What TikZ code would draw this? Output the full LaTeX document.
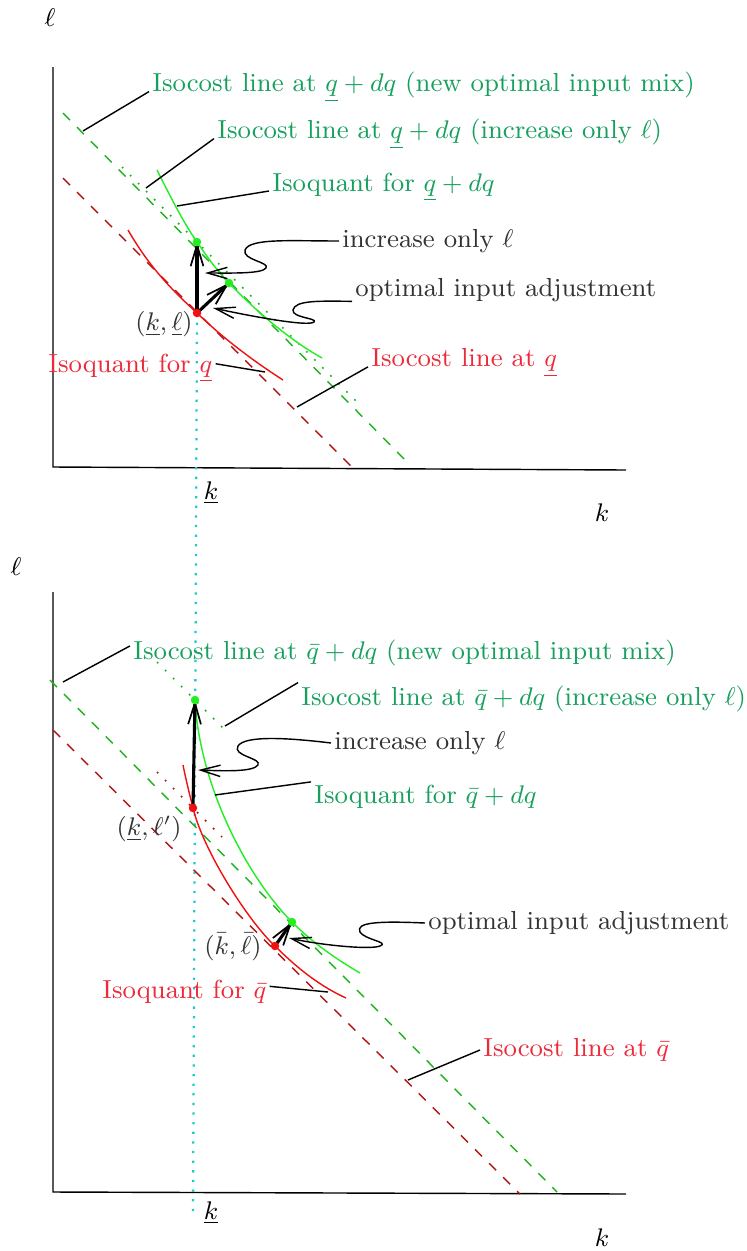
\documentclass[tikz,border=0pt]{standalone}
\usepackage{xcolor}
\usepackage{tikz}
\usepackage{amsmath}
\usetikzlibrary{arrows.meta}
\definecolor{gtext}{HTML}{17A05D}
\definecolor{rtext}{HTML}{EC2A3A}
\definecolor{dtext}{HTML}{333333}
\definecolor{gline}{HTML}{1DB31D}
\definecolor{rline}{HTML}{B01515}
\definecolor{gcurve}{HTML}{22EE22}
\definecolor{rcurve}{HTML}{F01010}
\definecolor{guidec}{HTML}{20C8D0}

\begin{document}
\begin{tikzpicture}[
  x=0.353pt,y=-0.353pt,
  font=\fontsize{9.2pt}{11pt}\selectfont,
  lab/.style={inner sep=1pt,anchor=west},
  glab/.style={lab,text=gtext},
  rlab/.style={lab,text=rtext},
  dlab/.style={lab,text=dtext},
  lead/.style={draw=black,line width=0.5pt},
  ar/.style={-{Straight Barb[length=7pt,width=4pt]}},
  move/.style={draw=black,line width=1.1pt,-{Straight Barb[length=7.5pt,width=4.5pt,line width=0.6pt]}},
  cost/.style={dash pattern=on 3.5pt off 3.5pt,line width=0.5pt},
  only/.style={dash pattern=on 0.6pt off 3.4pt,line width=0.6pt},
  isoq/.style={line width=0.5pt},
  axis/.style={draw=black,line width=0.5pt},
  guide/.style={draw=guidec,line width=0.8pt,dash pattern=on 0.8pt off 2.6pt}
]
\useasboundingbox (0,0) rectangle (747,1251);

\draw[axis] (53,67) -- (53,467) -- (626,470);
\node (l1) at (50,18) {$\ell$};
\node (k1) at (602,513) {$k$};
\node (kk1) at (211,493) {$\underline{k}$};
\draw[axis] (53,592) -- (53,1192) -- (626,1194);
\node (l2) at (16,567) {$\ell$};
\node (k2) at (602,1238) {$k$};
\node (kk2) at (211,1213) {$\underline{k}$};

% top panel
\coordinate (A) at (197,313);
\coordinate (B) at (197,242);
\coordinate (C) at (229,283);
\coordinate (G) at (193,1218);
\draw[guide] (A) -- (G);
\draw[rline,cost] (63,178) -- (352,467);
\draw[gline,cost] (63,113) -- (410,465);
\draw[gline,only] (122,167) -- (362,407);
\draw[rcurve,isoq] (128,230) .. controls (150,268) and (172,290) .. (A)
  .. controls (225,340) and (255,362) .. (283,380);
\draw[gcurve,isoq] (157,170) .. controls (172,200) and (185,225) .. (B)
  .. controls (208,258) and (218,272) .. (C)
  .. controls (258,313) and (290,340) .. (322,358);
\draw[move] (A) -- (B);
\draw[move] (A) -- (C);
\fill[rcurve] (A) circle (1.5pt);
\fill[gcurve] (B) circle (1.5pt);
\fill[gcurve] (C) circle (1.5pt);

\node[glab] (L1) at (149,87) {Isocost line at $\underline{q}+dq$ (new optimal input mix)};
\node[glab] (L2) at (214,134) {Isocost line at $\underline{q}+dq$ (increase only $\ell$)};
\node[glab] (L3) at (269,187) {Isoquant for $\underline{q}+dq$};
\node[dlab] (L4) at (339,241) {increase only $\ell$};
\node[dlab] (L5) at (352,290) {optimal input adjustment};
\node[rlab] (L6) at (45,368) {Isoquant for $\underline{q}$};
\node[rlab] (L7) at (368,363) {Isocost line at $\underline{q}$};
\node[dlab,anchor=east] (P1) at (196,324) {$(\underline{k},\underline{\ell})$};

\coordinate (t1) at (83,131);
\coordinate (t2) at (146,188);
\coordinate (t3) at (177,206);
\coordinate (t4) at (205,273);
\coordinate (t5) at (213,308);
\coordinate (t6) at (265,372);
\coordinate (t7) at (297,407);
\draw[lead] (t1) -- (L1.base west);
\draw[lead] (t2) -- (L2.base west);
\draw[lead] (t3) -- (L3.base west);
\draw[lead,ar] (L4.west) .. controls (290,241) and (250,238) .. (245,250)
  .. controls (242,260) and (270,262) .. (266,268)
  .. controls (262,274) and (230,273) .. (t4);
\draw[lead,ar] ([yshift=-4pt]L5.west) .. controls (320,301) and (295,300) .. (293,310)
  .. controls (292,318) and (318,318) .. (314,322)
  .. controls (308,327) and (250,316) .. (t5);
\draw[lead] ([yshift=1.5pt]L6.east) -- (t6);
\draw[lead] (t7) -- (L7.base west);

% bottom panel
\coordinate (A2) at (193,808);
\coordinate (B2) at (195,700);
\coordinate (R2) at (275,946);
\coordinate (H2) at (292,922);
\draw[rline,cost] (53,730) -- (520,1194);
\draw[gline,cost] (50,680) -- (557,1192);
\draw[gline,only] (157,662) -- (228,733);
\draw[rline,only] (157,772) -- (222,837);
\draw[rcurve,isoq] (183,765) .. controls (186,780) and (189,792) .. (A2)
  .. controls (203,850) and (248,921) .. (R2)
  .. controls (300,971) and (322,987) .. (346,998);
\draw[gcurve,isoq] (B2) .. controls (200,790) and (250,880) .. (H2)
  .. controls (315,945) and (338,960) .. (360,973);
\draw[move] (A2) -- (B2);
\draw[move] (R2) -- (H2);
\fill[rcurve] (A2) circle (1.5pt);
\fill[gcurve] (B2) circle (1.5pt);
\fill[rcurve] (R2) circle (1.5pt);
\fill[gcurve] (H2) circle (1.5pt);

\node[glab] (M1) at (130,653) {Isocost line at $\bar{q}+dq$ (new optimal input mix)};
\node[glab] (M2) at (298,699) {Isocost line at $\bar{q}+dq$ (increase only $\ell$)};
\node[dlab] (M3) at (331,743) {increase only $\ell$};
\node[glab] (M4) at (311,797) {Isoquant for $\bar{q}+dq$};
\node[dlab] (M5) at (425,923) {optimal input adjustment};
\node[rlab] (M6) at (99,992) {Isoquant for $\bar{q}$};
\node[rlab] (M7) at (480,1050) {Isocost line at $\bar{q}$};
\node[dlab,anchor=east] (P2) at (185,829) {$(\underline{k},\ell')$};
\node[dlab,anchor=east] (P3) at (265,947) {$(\bar{k},\bar{\ell})$};

\coordinate (b1) at (63,682);
\coordinate (b2) at (225,726);
\coordinate (b3) at (198,770);
\coordinate (b4) at (215,795);
\coordinate (b5) at (289,938);
\coordinate (b6) at (328,992);
\coordinate (b7) at (408,1080);
\draw[lead] (b1) -- ([yshift=2.5pt]M1.west);
\draw[lead] (b2) -- (M2.north west);
\draw[lead,ar] (M3.west) .. controls (290,738) and (245,735) .. (238,746)
  .. controls (232,756) and (262,758) .. (258,765)
  .. controls (253,772) and (225,771) .. (b3);
\draw[lead] (b4) -- (M4.north west);
\draw[lead,ar] (M5.west) .. controls (380,921) and (355,922) .. (360,932)
  .. controls (365,940) and (390,942) .. (380,946)
  .. controls (370,950) and (320,945) .. (b5);
\draw[lead] ([yshift=2pt]M6.east) -- (b6);
\draw[lead] (b7) -- (M7.west);
\end{tikzpicture}
\end{document}
